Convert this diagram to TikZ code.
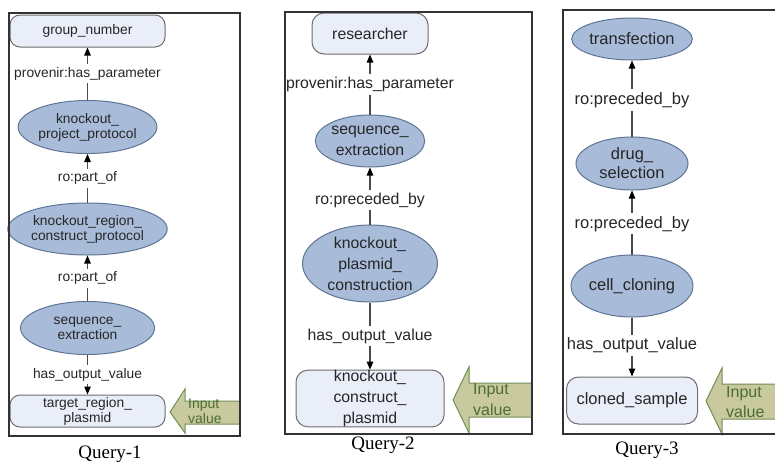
\documentclass[tikz,border=0pt]{standalone}
\usepackage{fontspec}
\setmainfont{Liberation Sans}
\newfontfamily\capfont{Liberation Serif}
\usetikzlibrary{shapes.geometric,arrows.meta}

\definecolor{procfill}{HTML}{A8BCD9}
\definecolor{procline}{HTML}{5E7594}
\definecolor{datafill}{HTML}{E9EEF9}
\definecolor{dataline}{HTML}{6E6E6E}
\definecolor{inputfill}{HTML}{C9C9A0}
\definecolor{inputline}{HTML}{728F55}
\definecolor{inputtext}{HTML}{4C6E2E}
\definecolor{txt}{HTML}{262626}
\definecolor{edgecol}{HTML}{4A4A4A}

\tikzset{
  proc/.style={ellipse, draw=procline, fill=procfill, line width=1pt,
    inner sep=0pt, align=center, text=txt},
  datum/.style={rectangle, rounded corners=10pt, draw=dataline, fill=datafill,
    line width=1pt, inner sep=0pt, align=center, text=txt},
  link/.style={draw=edgecol, line width=1.1pt,
    -{Triangle[length=8pt,width=6.5pt,color=black]}},
  lbl/.style={fill=white, inner sep=3pt, text=txt},
  panelframe/.style={draw=black!80, line width=1.2pt},
  inarrow/.style={fill=inputfill, draw=inputline, line width=1pt},
  intext/.style={text=inputtext, align=left, inner sep=0pt, anchor=west},
  caption/.style={font=\capfont\fontsize{19}{22}\selectfont, text=black,
    anchor=base}
}

\begin{document}
\begin{tikzpicture}[x=1pt,y=-1pt]
\useasboundingbox[fill=white] (0,0) rectangle (775,461);

% ---------------- Query-1 ----------------
\begin{scope}[every node/.append style={font=\fontsize{13.8}{15}\selectfont}]
  \node[datum, minimum width=155, minimum height=32] (g) at (87.5,31) {group\_number};
  \node[proc, minimum width=134, minimum height=53] (kpp) at (87.5,127)
    {knockout\_\\project\_protocol};
  \node[proc, minimum width=134, minimum height=52] (krc) at (87.5,229)
    {knockout\_region\_\\construct\_protocol};
  \node[proc, minimum width=134, minimum height=53] (se1) at (87.5,328)
    {sequence\_\\extraction};
  \node[datum, minimum width=155, minimum height=32] (trp) at (87.5,411)
    {target\_region\_\\plasmid};

  \draw[link] (kpp) -- node[lbl] {provenir:has\_parameter} (g);
  \draw[link] (krc) -- node[lbl] {ro:part\_of} (kpp);
  \draw[link] (se1) -- node[lbl] {ro:part\_of} (krc);
  \draw[link] (se1) -- node[lbl] {has\_output\_value} (trp);
\end{scope}
\path[inarrow] (239,401) -- (185,401) -- (185,389) -- (170,412)
  -- (185,433) -- (185,424) -- (239,424);
\node[intext, font=\fontsize{14}{15}\selectfont] (in1) at (188,411) {Input\\value};
\draw[panelframe] (9,13) rectangle (240,436);
\node[caption] (q1) at (110,458) {Query-1};

% ---------------- Query-2 ----------------
\begin{scope}[every node/.append style={font=\fontsize{15.8}{21}\selectfont}]
  \node[datum, rounded corners=12pt, minimum width=116, minimum height=41]
    (res) at (370,33.5) {researcher};
  \node[proc, minimum width=97, minimum height=52] (se2) at (370,141)
    {sequence\_\\extraction};
  \node[proc, minimum width=135, minimum height=77] (kpc) at (370,263.5)
    {knockout\_\\plasmid\_\\construction};
  \node[datum, rounded corners=12pt, minimum width=148, minimum height=53]
    (kcp) at (370,398.5) {knockout\_\\construct\_\\plasmid};

  \draw[link] (se2) -- node[lbl] {provenir:has\_parameter} (res);
  \draw[link] (kpc) -- node[lbl, pos=0.43] {ro:preceded\_by} (se2);
  \draw[link] (kpc) -- node[lbl] {has\_output\_value} (kcp);
\end{scope}
\path[inarrow] (532,383) -- (469,383) -- (469,367) -- (453,400)
  -- (469,433) -- (469,417) -- (532,417);
\node[intext, font=\fontsize{16}{21}\selectfont] (in2) at (473,399.5) {Input\\value};
\draw[panelframe] (285,12) rectangle (532,434);
\node[caption] (q2) at (383,449) {Query-2};

% ---------------- Query-3 ----------------
\begin{scope}[every node/.append style={font=\fontsize{16.5}{19}\selectfont}]
  \node[proc, minimum width=112, minimum height=42] (tf) at (632,39) {transfection};
  \node[proc, minimum width=112, minimum height=53] (ds) at (632,163.5)
    {drug\_\\selection};
  \node[proc, minimum width=112, minimum height=62] (cc) at (632,286) {cell\_cloning};
  \node[datum, rounded corners=12pt, minimum width=131, minimum height=47]
    (cs) at (632,400.5) {cloned\_sample};

  \draw[link] (ds) -- node[lbl, pos=0.48] {ro:preceded\_by} (tf);
  \draw[link] (cc) -- node[lbl, pos=0.48] {ro:preceded\_by} (ds);
  \draw[link] (cc) -- node[lbl, pos=0.47] {has\_output\_value} (cs);
\end{scope}
\path[inarrow] (776,384) -- (722,384) -- (722,368) -- (706,401)
  -- (722,434) -- (722,419) -- (776,419);
\node[intext, font=\fontsize{16}{20}\selectfont] (in3) at (726,402) {Input\\value};
\draw[panelframe] (776,10) -- (563,10) -- (563,434) -- (776,434);
\node[caption] (q3) at (647,454) {Query-3};
\end{tikzpicture}
\end{document}
